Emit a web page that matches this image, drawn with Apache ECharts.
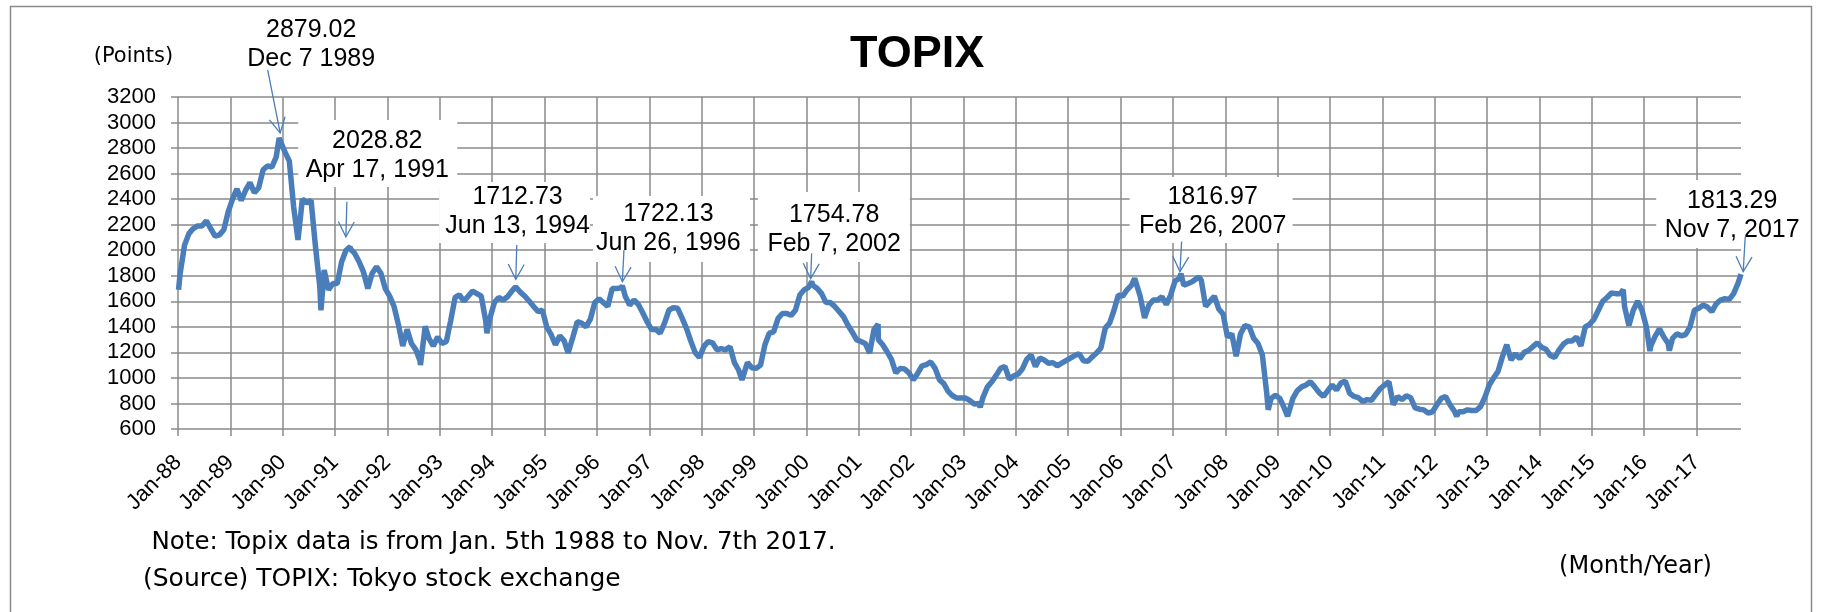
<!DOCTYPE html>
<html>
<head>
<meta charset="utf-8">
<title>TOPIX</title>
<script src="https://cdn.jsdelivr.net/npm/echarts@6/dist/echarts.min.js"></script>
<style>
  html, body { margin: 0; padding: 0; background: #fff; }
  #chart { width: 1825px; height: 612px; }
</style>
</head>
<body>
<div id="chart"></div>
<script>
// TOPIX, one value per month (mid-month), Jan..Dec
var topix1988 = [1820, 2040, 2130, 2170, 2190, 2190, 2230, 2170, 2110, 2120, 2160, 2300];
var topix1989 = [2400, 2480, 2390, 2470, 2530, 2450, 2490, 2630, 2660, 2650, 2730, 2850];
var topix1990 = [2770, 2700, 2340, 2080, 2400, 2370, 2390, 2030, 1715, 1845, 1690, 1740];
var topix1991 = [1740, 1910, 2000, 2010, 1975, 1910, 1830, 1700, 1820, 1870, 1820, 1700];
var topix1992 = [1640, 1560, 1420, 1250, 1380, 1270, 1220, 1130, 1360, 1310, 1250, 1320];
var topix1993 = [1270, 1285, 1450, 1630, 1650, 1600, 1640, 1680, 1660, 1640, 1450, 1470];
var topix1994 = [1590, 1630, 1610, 1635, 1680, 1700, 1670, 1640, 1600, 1560, 1520, 1530];
var topix1995 = [1400, 1340, 1260, 1330, 1290, 1210, 1320, 1440, 1430, 1400, 1460, 1590];
var topix1996 = [1620, 1590, 1560, 1700, 1700, 1705, 1640, 1570, 1610, 1575, 1510, 1440];
var topix1997 = [1380, 1380, 1350, 1430, 1530, 1550, 1545, 1470, 1390, 1290, 1200, 1160];
var topix1998 = [1245, 1285, 1275, 1220, 1230, 1220, 1245, 1120, 1060, 1000, 1120, 1080];
var topix1999 = [1075, 1100, 1260, 1350, 1360, 1465, 1505, 1505, 1490, 1530, 1650, 1690];
var topix2000 = [1710, 1725, 1700, 1660, 1590, 1590, 1560, 1520, 1480, 1415, 1360, 1300];
var topix2001 = [1285, 1270, 1195, 1380, 1300, 1260, 1205, 1145, 1040, 1075, 1070, 1040];
var topix2002 = [985, 1035, 1095, 1105, 1125, 1075, 985, 955, 895, 860, 842, 842];
var topix2003 = [842, 822, 795, 800, 850, 930, 970, 1020, 1075, 1090, 990, 1015];
var topix2004 = [1030, 1070, 1145, 1180, 1090, 1155, 1140, 1115, 1120, 1095, 1115, 1135];
var topix2005 = [1155, 1175, 1190, 1135, 1130, 1165, 1195, 1235, 1390, 1430, 1530, 1650];
var topix2006 = [1640, 1690, 1725, 1765, 1640, 1470, 1570, 1610, 1610, 1635, 1575, 1650];
var topix2007 = [1760, 1780, 1725, 1740, 1755, 1780, 1765, 1560, 1600, 1640, 1540, 1500];
var topix2008 = [1320, 1345, 1170, 1345, 1410, 1400, 1310, 1270, 1180, 880, 840, 865];
var topix2009 = [840, 765, 725, 840, 900, 930, 945, 970, 930, 885, 855, 900];
var topix2010 = [945, 905, 960, 975, 880, 855, 845, 815, 830, 825, 870, 915];
var topix2011 = [945, 970, 790, 855, 830, 860, 845, 765, 755, 750, 725, 735];
var topix2012 = [790, 840, 855, 790, 740, 735, 735, 750, 745, 745, 775, 850];
var topix2013 = [945, 1000, 1050, 1165, 1260, 1140, 1190, 1150, 1200, 1215, 1245, 1275];
var topix2014 = [1240, 1225, 1175, 1160, 1220, 1265, 1290, 1290, 1320, 1250, 1400, 1420];
var topix2015 = [1460, 1530, 1600, 1630, 1665, 1660, 1660, 1560, 1410, 1530, 1600, 1530];
var topix2016 = [1400, 1250, 1325, 1385, 1320, 1270, 1310, 1345, 1330, 1340, 1400, 1530];
var topix2017 = [1545, 1570, 1555, 1520, 1580, 1610, 1620, 1615, 1660, 1740]; // Jan..Oct

var firstYear = 1988;
var monthly = [topix1988, topix1989, topix1990, topix1991, topix1992, topix1993, topix1994,
  topix1995, topix1996, topix1997, topix1998, topix1999, topix2000, topix2001, topix2002,
  topix2003, topix2004, topix2005, topix2006, topix2007, topix2008, topix2009, topix2010,
  topix2011, topix2012, topix2013, topix2014, topix2015, topix2016, topix2017];

// first day (Jan 5th 1988) and short-lived highs/lows seen on the line (decimal year)
var firstDay = [1988.01, 1690];
var spikeDates = [1990.73, 1992.63, 1992.72, 1993.90, 1995.45, 1998.77, 2001.37, 2003.32,
  2006.27, 2007.50, 2008.82, 2009.19, 2012.42, 2015.60, 2016.11, 2016.48];
var spikeValues = [1530, 1100, 1405, 1350, 1195, 985, 1420, 770,
  1780, 1790, 750, 700, 700, 1690, 1210, 1215];

// labelled points
var peakDates = [1989.932, 1991.290, 1994.447, 1996.486, 2000.101, 2007.153, 2017.849];
var peakValues = [2879.02, 2028.82, 1712.73, 1722.13, 1754.78, 1816.97, 1813.29];
var peakText = ['2879.02\nDec 7 1989', '2028.82\nApr 17, 1991', '1712.73\nJun 13, 1994',
  '1722.13\nJun 26, 1996', '1754.78\nFeb 7, 2002', '1816.97\nFeb 26, 2007', '1813.29\nNov 7, 2017'];

// y axis
var yMin = 600, yMax = 3200, yStep = 200;

// callout placement in px, relative to the labelled point
var calloutLayout = [
  { text: [32, -93], box: [-34, -126, 132, 65], from: [-11.5, -68], to: [1, -5] },
  { text: [27, -91], box: [-52, -126.5, 159, 67], from: [-3.4, -44.8], to: [-4.4, -9.8] },
  { text: [2, -75.4], box: [-76.5, -105, 151, 61], from: [1.2, -42], to: [0.2, -7.6] },
  { text: [46, -57.2], box: [-29.4, -89.7, 157, 66], from: [1.6, -35.7], to: [0, -4] },
  { text: [22.5, -52], box: [-53.8, -89.5, 152, 70], from: [0, -28.2], to: [-1, -3] },
  { text: [31.7, -62.1], box: [-51.3, -96.6, 163, 66], from: [0.7, -32], to: [-1, -2] },
  { text: [-8.8, -58.6], box: [-84.8, -94.1, 153, 68], from: [4.2, -37.4], to: [2.2, -2.4] }
];

var FONT = '"Liberation Sans", Arial, sans-serif';
var WIDE = '"DejaVu Sans", "Liberation Sans", sans-serif';
var gridGrey = '#8a8a8a';
var lineBlue = '#4a7ebb';

var seriesData = [firstDay.slice()];
monthly.forEach(function (vals, i) {
  vals.forEach(function (v, m) {
    seriesData.push([firstYear + i + (m + 0.5) / 12, v]);
  });
});
spikeDates.forEach(function (d, i) { seriesData.push([d, spikeValues[i]]); });
peakDates.forEach(function (d, i) { seriesData.push([d, peakValues[i]]); });
seriesData.sort(function (a, b) { return a[0] - b[0]; });
var lastDate = seriesData[seriesData.length - 1][0];

// centre the title at x = 917
var measure = document.createElement('canvas').getContext('2d');
measure.font = 'bold 45px ' + FONT;
var titleLeft = Math.round(917 - measure.measureText('TOPIX').width / 2 - 5);

var chart = echarts.init(document.getElementById('chart'));

var option = {
  animation: false,
  backgroundColor: '#fff',
  title: {
    text: 'TOPIX',
    left: titleLeft,
    top: 27,
    textStyle: { fontSize: 45, fontWeight: 'bold', color: '#000', fontFamily: FONT }
  },
  grid: { left: 178, right: 84, top: 97, bottom: 183 },
  xAxis: {
    type: 'value',
    min: firstYear,
    max: lastDate,
    interval: 1,
    axisLine: { show: false },
    axisTick: { show: true, length: 7, lineStyle: { color: gridGrey, width: 1.5 } },
    axisLabel: {
      rotate: 45,
      margin: 30,
      fontSize: 22,
      color: '#000',
      fontFamily: FONT,
      showMaxLabel: false,
      formatter: function (v) {
        return Math.abs(v - Math.round(v)) < 1e-6 ? 'Jan-' + String(Math.round(v)).slice(2) : '';
      }
    },
    splitLine: { show: true, showMaxLine: false, lineStyle: { color: gridGrey, width: 1.5 } }
  },
  yAxis: {
    type: 'value',
    min: yMin,
    max: yMax,
    interval: yStep,
    axisLine: { show: false },
    axisTick: { show: true, length: 7, lineStyle: { color: gridGrey, width: 1.5 } },
    axisLabel: {
      fontSize: 22, color: '#000', fontFamily: FONT, margin: 22,
      formatter: function (v) { return String(v); }
    },
    splitLine: { show: true, lineStyle: { color: gridGrey, width: 1.5 } }
  },
  series: [{
    name: 'TOPIX',
    type: 'line',
    data: seriesData,
    showSymbol: false,
    symbol: 'none',
    lineStyle: { color: lineBlue, width: 5.5 },
    z: 3
  }]
};
chart.setOption(option);

function addText(list, text, x, y, size, align, family) {
  list.push({
    type: 'text', silent: true, z: 50,
    style: { text: text, x: x, y: y, fill: '#000', fontSize: size, fontFamily: family || FONT,
      align: align, verticalAlign: 'middle' }
  });
}

var graphics = [];
graphics.push({
  type: 'rect', silent: true, z: 1,
  shape: { x: 10.5, y: 6.5, width: 1801, height: 640 },
  style: { fill: 'none', stroke: '#8a8a8a', lineWidth: 1.5 }
});
addText(graphics, '(Points)', 133.5, 57, 21, 'center', WIDE);
addText(graphics, 'Note: Topix data is from Jan. 5th 1988 to Nov. 7th 2017.', 151.5, 543, 24.5, 'left', WIDE);
addText(graphics, '(Source) TOPIX: Tokyo stock exchange', 143, 579, 25, 'left', WIDE);
addText(graphics, '(Month/Year)', 1635.5, 567, 24, 'center', WIDE);

peakDates.forEach(function (d, i) {
  var p = chart.convertToPixel({ gridIndex: 0 }, [d, peakValues[i]]);
  var L = calloutLayout[i];
  graphics.push({
    type: 'rect', silent: true, z: 40,
    shape: { x: p[0] + L.box[0], y: p[1] + L.box[1], width: L.box[2], height: L.box[3] },
    style: { fill: '#fff' }
  });
  graphics.push({
    type: 'text', silent: true, z: 41,
    style: { text: peakText[i], x: p[0] + L.text[0], y: p[1] + L.text[1], fill: '#000',
      fontSize: 25, fontFamily: FONT, lineHeight: 29, align: 'center', verticalAlign: 'middle' }
  });
  var a = [p[0] + L.from[0], p[1] + L.from[1]];
  var b = [p[0] + L.to[0], p[1] + L.to[1]];
  var dx = a[0] - b[0], dy = a[1] - b[1];
  var len = Math.sqrt(dx * dx + dy * dy);
  dx /= len; dy /= len;
  var head = 17, ang = 28 * Math.PI / 180;
  var c = Math.cos(ang), s = Math.sin(ang);
  var w1 = [b[0] + head * (dx * c - dy * s), b[1] + head * (dx * s + dy * c)];
  var w2 = [b[0] + head * (dx * c + dy * s), b[1] + head * (-dx * s + dy * c)];
  graphics.push({
    type: 'line', silent: true, z: 42,
    shape: { x1: a[0], y1: a[1], x2: b[0], y2: b[1] },
    style: { stroke: lineBlue, lineWidth: 1.3 }
  });
  graphics.push({
    type: 'polyline', silent: true, z: 42,
    shape: { points: [w1, b, w2] },
    style: { stroke: lineBlue, lineWidth: 1.3, fill: null }
  });
});

chart.setOption({ graphic: graphics });
window.addEventListener('resize', function () { chart.resize(); });
</script>
</body>
</html>
